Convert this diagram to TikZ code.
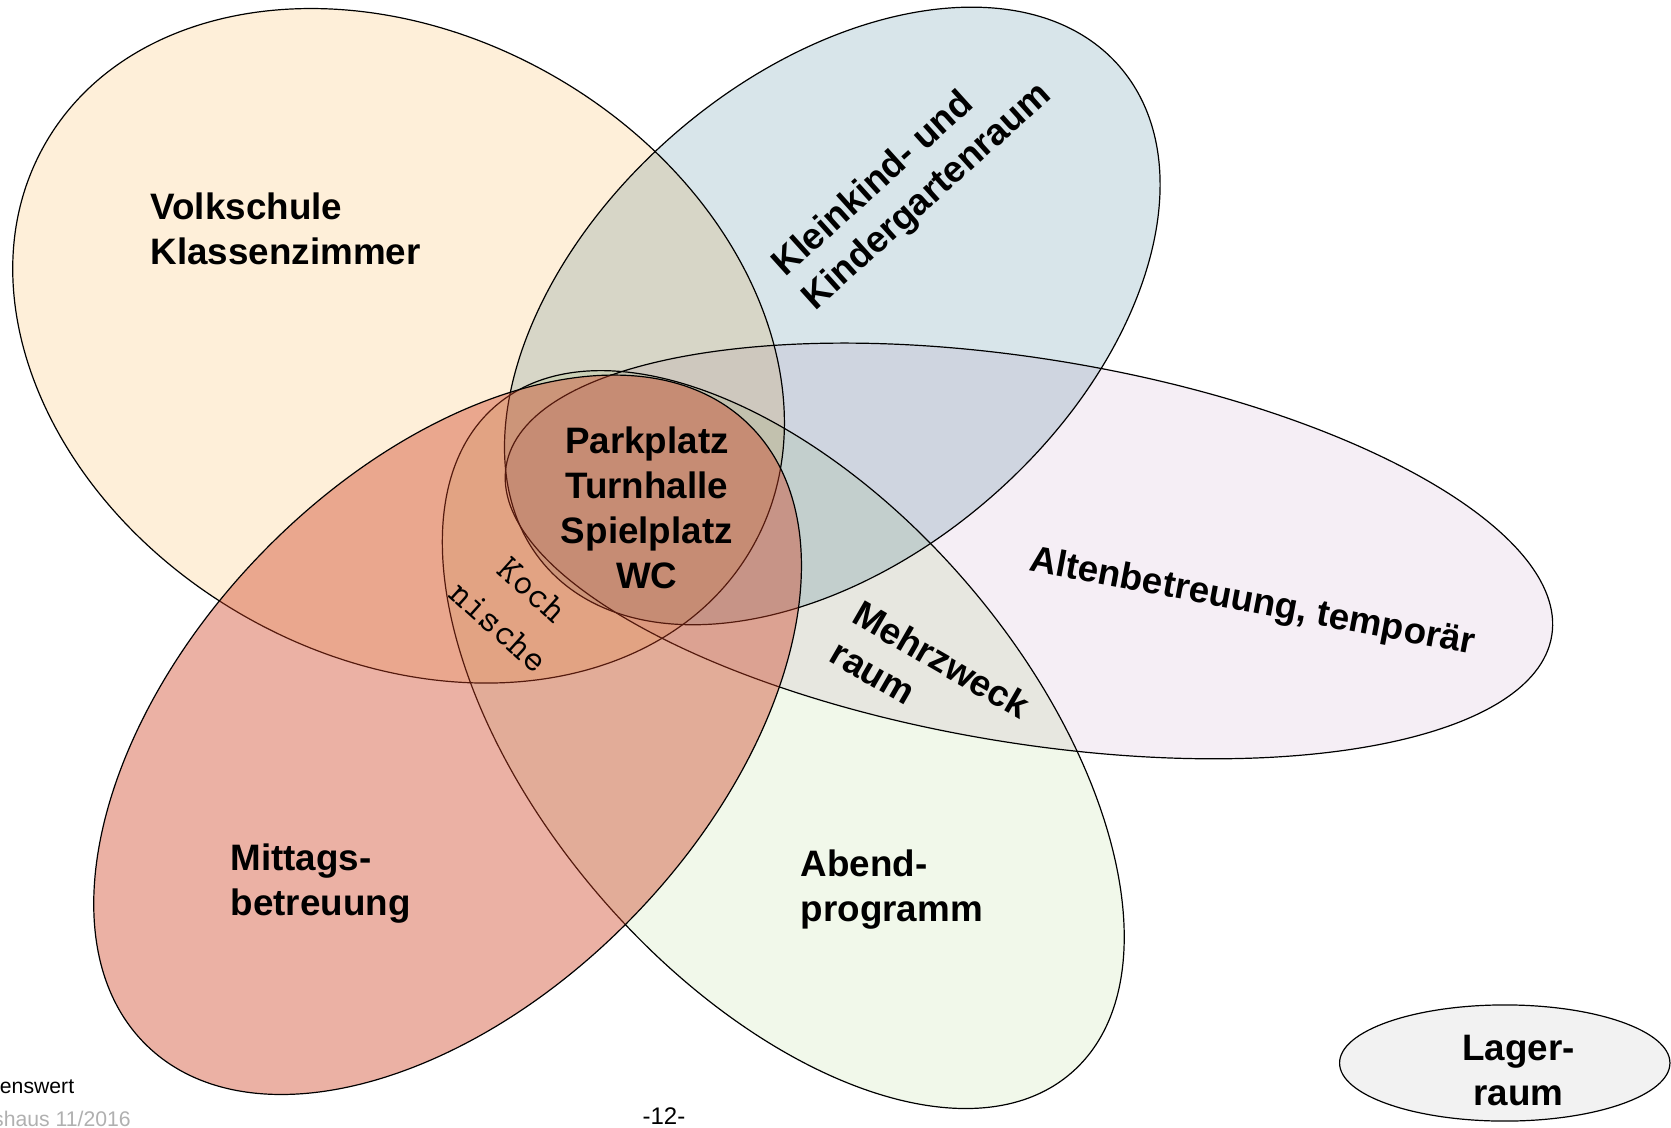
\documentclass[tikz,border=0pt]{standalone}
\usepackage{fontspec}
\setmainfont{Liberation Sans}
\usetikzlibrary{positioning}

\definecolor{volkfill}{HTML}{FEEFD9}
\definecolor{kleinfill}{HTML}{D8E5EA}
\definecolor{altenfill}{HTML}{F5EEF5}
\definecolor{abendfill}{HTML}{F1F8EA}
\definecolor{mittagfill}{HTML}{CE4123}
\definecolor{lagerfill}{HTML}{F2F2F2}
\definecolor{footgray}{HTML}{B0B0B0}

\tikzset{
  roomzone/.style={draw=black, line width=0.6pt, blend mode=multiply},
  roomtext/.style={font=\fontsize{18.4}{22.5}\selectfont\bfseries, inner sep=0pt},
  foottext/.style={font=\fontsize{10.6}{12}\selectfont, inner sep=0pt}
}

\begin{document}
\begin{tikzpicture}[x=0.5328pt, y=0.5328pt]
\useasboundingbox (0,0) rectangle (1568,1058);
% the overlapping rooms
\draw [roomzone, fill=volkfill] (374,733.5) circle [x radius=382, y radius=292, rotate=-29.7];
\draw [roomzone, fill=altenfill] (965.5,541) circle [x radius=497, y radius=180.4, rotate=-9.2];
\draw [roomzone, fill=abendfill] (735,364) circle [x radius=413.4, y radius=226.4, rotate=-49.2];
\draw [roomzone, fill=kleinfill] (781,761.5) circle [x radius=357, y radius=226, rotate=41];
\draw [line width=0.6pt, fill=mittagfill, fill opacity=0.41] (420,368.5) circle [x radius=405.8, y radius=243.8, rotate=46];
\draw [line width=0.6pt, fill=lagerfill] (1412,60.5) circle [x radius=155, y radius=54.5];

% room names
\node [roomtext, anchor=west, align=left] (volk) at (141,843.5) {Volkschule\\Klassenzimmer};
\node [roomtext, anchor=west, align=left, rotate=42] (klein) at (745,788) {Kleinkind- und\\Kindergartenraum};
\node [roomtext, rotate=-10.7] (alten) at (1175,492) {Altenbetreuung, temporär};
\node [roomtext, anchor=west, align=left, rotate=-30] (mehr) at (793,467) {Mehrzweck\\raum};
\node [inner sep=0pt, align=center, rotate=-42, font=\fontsize{19}{25}\selectfont\ttfamily] (koch) at (484,487) {Koch\\nische};
\node [roomtext, align=center] (park) at (607,581.5) {Parkplatz\\Turnhalle\\Spielplatz\\WC};
\node [roomtext, anchor=west, align=left] (mittag) at (216,229) {Mittags-\\betreuung};
\node [roomtext, anchor=west, align=left] (abend) at (751,223) {Abend-\\programm};
\node [roomtext, align=center] (lager) at (1425,53) {Lager-\\raum};

% footer
\node [foottext, anchor=east] (wert) at (70,38) {enswert};
\node [foottext, anchor=east, text=footgray] (haus) at (123,8) {shaus 11/2016};
\node [inner sep=0pt, font=\fontsize{12}{14}\selectfont] (page) at (623,11) {-12-};
\end{tikzpicture}
\end{document}
